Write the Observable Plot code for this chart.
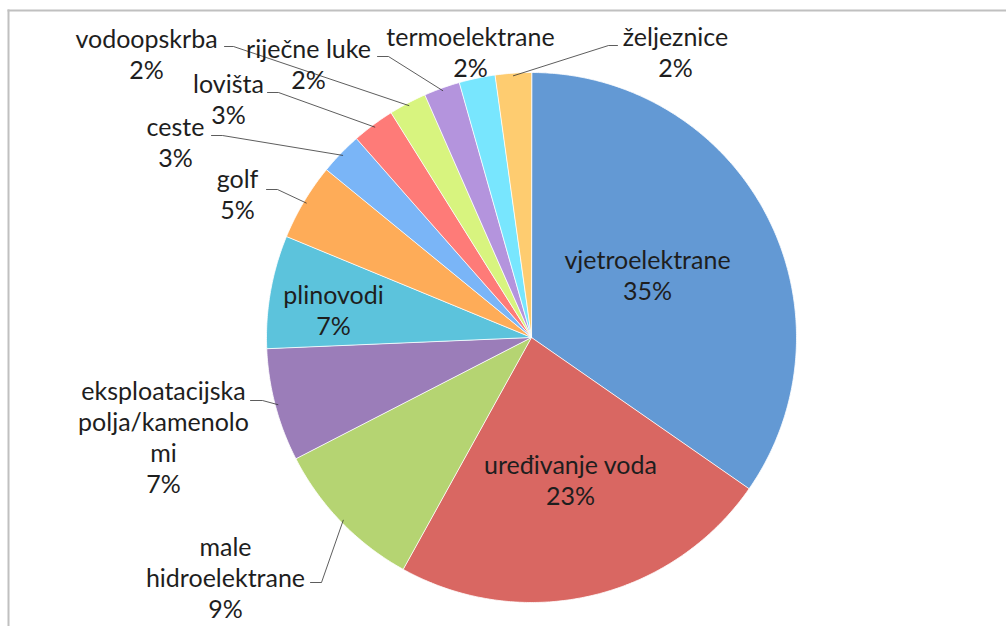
<!DOCTYPE html>
<html>
<head>
<meta charset="utf-8">
<script src="https://cdn.jsdelivr.net/npm/d3@7"></script>
<script src="https://cdn.jsdelivr.net/npm/@observablehq/plot@0.6"></script>
<style>
  html, body { margin: 0; padding: 0; background: #fff; }
  #chart svg { display: block; }
</style>
</head>
<body>
<div id="chart"></div>
<script>
// ---- data ----
const categories = [
  "vjetroelektrane", "uređivanje voda", "male hidroelektrane",
  "eksploatacijska polja/kamenolomi", "plinovodi", "golf", "ceste",
  "lovišta", "vodoopskrba", "riječne luke", "termoelektrane", "željeznice"
];
const shares = [34.7, 23.4, 9.4, 6.9, 6.9, 4.7, 2.6, 2.6, 2.3, 2.2, 2.2, 2.2];
const sliceColors = [
  "#6399D4", "#D96762", "#B5D472", "#9B7DB9", "#5CC3DC", "#FEAC58",
  "#7AB5F7", "#FE7B78", "#D8F47F", "#B494DD", "#78E6FE", "#FECC70"
];

// ---- layout (pixels) ----
const W = 1006, H = 626, CX = 531, CY = 337, R = 265;
const FONT = 25, LINE = 31;
const labelLayout = {
  "vjetroelektrane": {lines: ["vjetroelektrane"], x: 647, y: 268},
  "uređivanje voda": {lines: ["uređivanje voda"], x: 570, y: 473},
  "male hidroelektrane": {lines: ["male", "hidroelektrane"], x: 225, y: 555, tick: [310, 321, 582]},
  "eksploatacijska polja/kamenolomi": {lines: ["eksploatacijska", "polja/kamenolo", "mi"], x: 163, y: 399, tick: [250, 262, 400]},
  "plinovodi": {lines: ["plinovodi"], x: 333, y: 303},
  "golf": {lines: ["golf"], x: 237, y: 187, tick: [266, 277, 189]},
  "ceste": {lines: ["ceste"], x: 175, y: 135, tick: [211, 222, 135]},
  "lovišta": {lines: ["lovišta"], x: 228, y: 92, tick: [267, 278, 92]},
  "vodoopskrba": {lines: ["vodoopskrba"], x: 146, y: 47, tick: [224, 233, 46]},
  "riječne luke": {lines: ["riječne luke"], x: 308, y: 57, tick: [377, 388, 56]},
  "termoelektrane": {lines: ["termoelektrane"], x: 470, y: 45},
  "željeznice": {lines: ["željeznice"], x: 675, y: 45, tick: [617, 608, 45]}
};

// ---- derived geometry ----
const total = d3.sum(shares);
const arcs = d3.pie().sort(null).value(d => d)(shares);
const polar = (a, r) => ({x: CX + r * Math.sin(a), y: CY - r * Math.cos(a)});

const slicePts = [];
arcs.forEach((a, i) => {
  const name = categories[i];
  slicePts.push({name, ...polar(0, 0)});
  const n = Math.max(2, Math.ceil((a.endAngle - a.startAngle) / (Math.PI / 360)));
  for (let k = 0; k <= n; k++) {
    const ang = a.startAngle + (a.endAngle - a.startAngle) * k / n;
    slicePts.push({name, ...polar(ang, R)});
  }
});

const leaderPts = [];
const textLines = [];
arcs.forEach((a, i) => {
  const name = categories[i];
  const L = labelLayout[name];
  const pct = Math.round(shares[i] / total * 100) + "%";
  const lines = [...L.lines, pct];
  lines.forEach((t, j) => textLines.push({text: t, x: L.x, y: L.y + j * LINE}));
  if (L.tick) {
    const mid = (a.startAngle + a.endAngle) / 2;
    const end = polar(mid, R * 0.99);
    leaderPts.push({name, x: L.tick[0], y: L.tick[2]});
    leaderPts.push({name, x: L.tick[1], y: L.tick[2]});
    leaderPts.push({name, x: end.x, y: end.y});
  }
});

const chart = Plot.plot({
  width: W,
  height: H,
  marginLeft: 8,
  marginTop: 10,
  marginRight: 0,
  marginBottom: 0,
  x: {domain: [8, W], range: [8, W], axis: null},
  y: {domain: [10, H], range: [10, H], axis: null},
  color: {domain: categories, range: sliceColors},
  style: {background: "#fff", overflow: "visible"},
  marks: [
    Plot.frame({anchor: "left", stroke: "#c0c0c0", strokeWidth: 2}),
    Plot.frame({anchor: "top", stroke: "#c0c0c0", strokeWidth: 2}),
    Plot.line(slicePts, {x: "x", y: "y", z: "name", fill: "name", stroke: "white", strokeWidth: 0.8, curve: "linear-closed"}),
    Plot.line(leaderPts, {x: "x", y: "y", z: "name", stroke: "#333", strokeWidth: 0.8}),
    Plot.text(textLines, {x: "x", y: "y", text: "text", fontSize: FONT, fontFamily: "Lato", fill: "#1e1e1e", textAnchor: "middle", lineAnchor: "bottom"})
  ]
});
document.getElementById("chart").appendChild(chart);
</script>
</body>
</html>
